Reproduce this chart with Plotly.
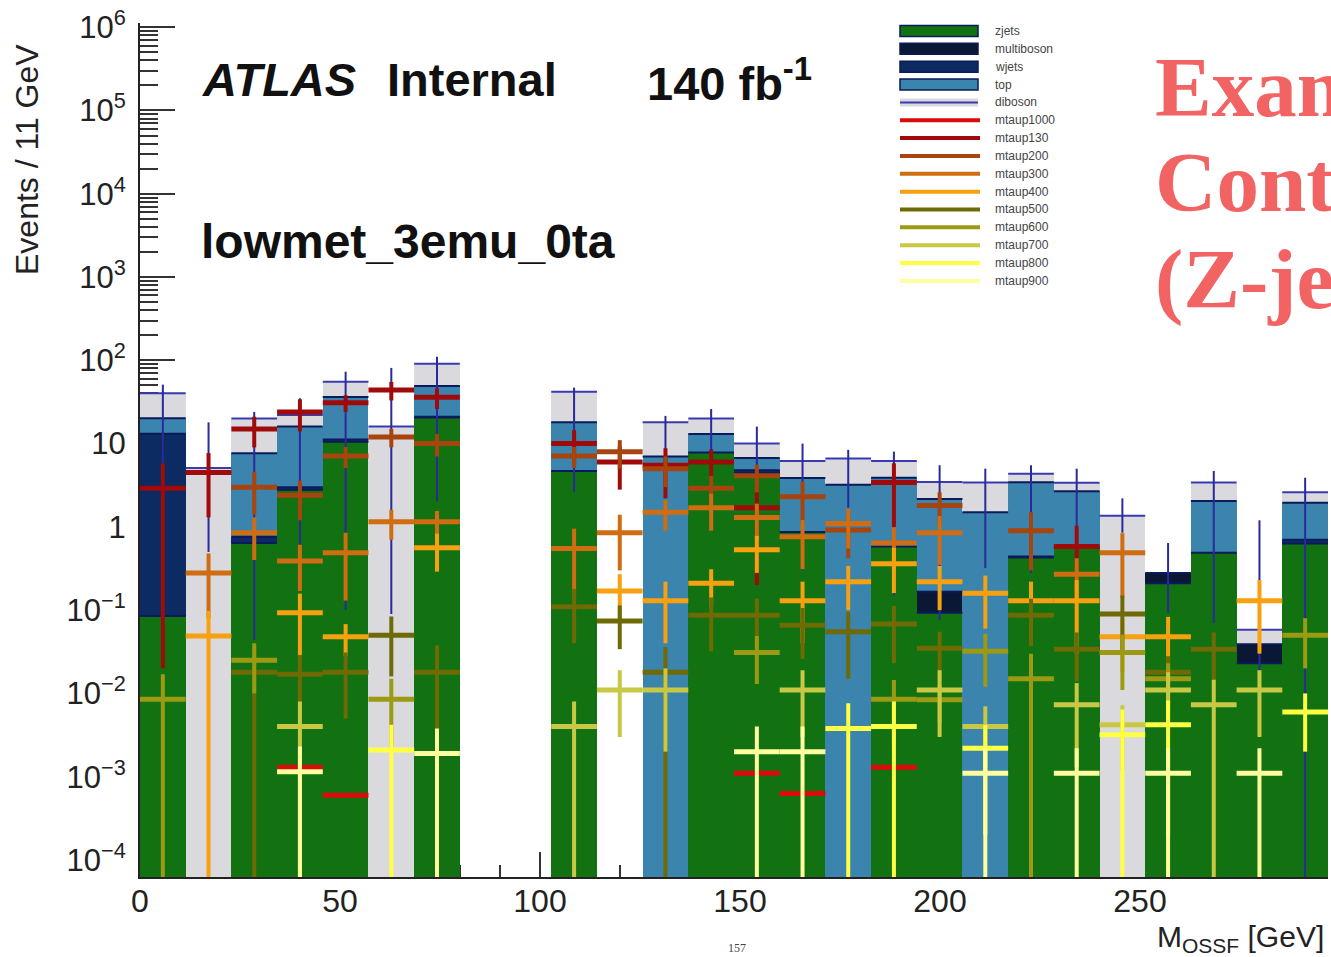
import numpy as np
import plotly.graph_objects as go

# ---------------- binning ----------------
x_min, x_max, n_bins = 0.0, 297.0, 26

# ---------------- background stack (per-bin yields) ----------------
zjets      = [0.085, 0, 0.64, 2.8, 10.5, 0, 20.5, 0, 0, 4.7, 0, 0, 7.8, 4.4, 0.87, 0, 0.58, 0.093, 0, 0.43, 0.58, 0, 0.21, 0.49, 0.023, 0.63]
multiboson = [0, 0, 0, 0, 0, 0, 0, 0, 0, 0, 0, 0, 0, 0, 0, 0, 0, 0.073, 0, 0, 0, 0, 0.07, 0, 0.016, 0]
wjets      = [13, 0, 0.12, 0.2, 0.7, 0, 0.5, 0, 0, 0, 0, 0, 0, 0.4, 0, 0, 0, 0, 0, 0.01, 0, 0, 0, 0, 0, 0.07]
top        = [7, 0, 6.9, 13, 25, 0, 28, 0, 0, 13.3, 0, 7, 5.2, 1.9, 3.0, 3.2, 3.3, 2.0, 1.5, 3.0, 2.1, 0, 0, 1.56, 0, 1.25]
diboson    = [20, 5.1, 12.3, 6, 19, 16, 42, 0, 0, 24, 0, 11, 7, 3.3, 2.3, 3.4, 2.3, 1.3, 1.9, 0.9, 0.7, 1.36, 0, 1.35, 0.019, 0.65]

# total-background uncertainty band edges (upper / lower end of the error bar)
bkg_err_hi = [51, 18, 24, 35, 73, 81, 110, 0, 0, 47, 0, 21.5, 26, 16, 10, 8.4, 8, 5.5, 5.0, 5.5, 5.0, 2.2, 0.64, 4.7, 1.2, 3.9]
bkg_err_lo = [3, 0.5, 0.044, 0.5, 0.1, 0.09, 2, 0, 0, 2.6, 0, 3, 4, 2, 0.3, 1.7, 0.15, 0.076, 0.32, 0.28, 0.7, 0.85, 0.093, 0.07, 0.003, 1e-6]

# ---------------- signals (value, symmetric error) ----------------
N = None
mtaup1000_val = [N, N, N, 0.0013, 0.0006, N, N, N, N, N, N, N, N, 0.0011, 0.00063, N, 0.0013, N, N, N, N, N, N, N, N, N]
mtaup1000_err = [N, N, N, 0, 0, N, N, N, N, N, N, N, N, 0, 0, N, 0, N, N, N, N, N, N, N, N, N]
mtaup130_val = [2.9, 4.5, 15, 24, 31, 44, 36, N, N, 10, 6.0, 5.5, 6.0, 1.7, N, N, 3.4, N, N, N, 0.58, N, N, N, N, N]
mtaup130_err = [2.88, 3.2, 6, 10, 7, 11, 10, N, N, 4.5, 3.2, 3.3, 2.5, 1.5, N, N, 2.4, N, N, N, 0.45, N, N, N, N, N]
mtaup200_val = [N, N, 3.0, 2.4, 7.1, 12, 10, N, N, 7.1, 8, 5.0, 2.9, 4.1, 2.3, 0.92, N, 1.8, N, 0.9, N, N, N, N, N, N]
mtaup200_err = [N, N, 1.6, 1.2, 2, 3, 3, N, N, 2, 3, 2, 1.2, 1.5, 1.2, 0.5, N, 0.8, N, 0.6, N, N, N, N, N, N]
mtaup300_val = [N, 0.28, 0.85, 0.39, 0.49, 1.15, 1.15, N, N, 0.55, 0.85, 1.5, 1.7, 1.3, 0.76, 1.1, 0.64, 0.85, N, N, 0.27, 0.49, N, N, N, N]
mtaup300_err = [N, 0.2, 0.45, 0.22, 0.36, 0.45, 0.4, N, N, 0.4, 0.55, 0.6, 0.8, 0.6, 0.45, 0.55, 0.35, 0.5, N, N, 0.15, 0.35, N, N, N, N]
mtaup400_val = [N, 0.049, N, 0.093, 0.048, N, 0.56, N, N, N, 0.17, 0.13, 0.21, 0.53, 0.13, 0.22, 0.36, 0.22, 0.16, 0.13, 0.13, 0.048, 0.048, N, 0.13, N]
mtaup400_err = [N, 0.049, N, 0.065, 0.02, N, 0.27, N, N, N, 0.1, 0.09, 0.1, 0.25, 0.09, 0.12, 0.2, 0.12, 0.1, 0.09, 0.1, 0.03, 0.035, N, 0.1, N]
mtaup500_val = [N, N, 0.018, 0.017, 0.018, 0.05, 0.018, N, N, 0.11, 0.074, 0.018, 0.087, 0.087, 0.066, 0.055, 0.068, 0.035, N, 0.087, 0.034, 0.09, 0.018, 0.034, N, N]
mtaup500_err = [N, N, 0.018, 0.012, 0.013, 0.034, 0.02, N, N, 0.07, 0.04, 0.018, 0.055, 0.05, 0.04, 0.04, 0.045, 0.02, N, 0.05, 0.02, 0.06, 0.01, 0.02, N, N]
mtaup600_val = [0.0085, N, 0.025, N, N, 0.0085, N, N, N, N, N, N, N, 0.031, N, N, 0.0085, 0.0084, 0.032, 0.015, N, 0.031, 0.015, N, N, 0.05]
mtaup600_err = [0.0085, N, 0.015, N, N, 0.0065, N, N, N, N, N, N, N, 0.018, N, N, 0.006, 0.004, 0.02, 0.015, N, 0.02, 0.008, N, N, 0.03]
mtaup700_val = [N, N, N, 0.004, N, N, N, N, N, 0.004, 0.011, 0.011, N, N, 0.011, N, N, 0.011, 0.004, N, 0.0073, 0.0042, 0.011, 0.0073, 0.011, N]
mtaup700_err = [N, N, N, 0.004, N, N, N, N, N, 0.004, 0.008, 0.009, N, N, 0.008, N, N, 0.008, 0.003, N, 0.006, 0.003, 0.007, 0.0073, 0.008, N]
mtaup800_val = [N, N, N, N, N, 0.0021, N, N, N, N, N, N, N, N, N, 0.0038, 0.004, N, 0.0022, N, N, 0.0032, 0.0042, N, N, 0.006]
mtaup800_err = [N, N, N, N, N, 0.0021, N, N, N, N, N, N, N, N, N, 0.0038, 0.004, N, 0.002, N, N, 0.0032, 0.004, N, N, 0.004]
mtaup900_val = [N, N, N, 0.00115, N, N, 0.0019, N, N, N, N, N, N, 0.002, 0.002, N, N, N, 0.0011, N, 0.0011, N, 0.0011, N, 0.0011, N]
mtaup900_err = [N, N, N, 0.00115, N, N, 0.0019, N, N, N, N, N, N, 0.002, 0.002, N, N, N, 0.0011, N, 0.0011, N, 0.0011, N, 0.0011, N]

# y-axis tick labels
y_tickvals = [1e-4, 1e-3, 1e-2, 1e-1, 1, 10, 1e2, 1e3, 1e4, 1e5, 1e6]
y_ticktext = ["10<sup>\u22124</sup>", "10<sup>\u22123</sup>", "10<sup>\u22122</sup>", "10<sup>\u22121</sup>",
              "1", "10", "10<sup>2</sup>", "10<sup>3</sup>", "10<sup>4</sup>", "10<sup>5</sup>", "10<sup>6</sup>"]
x_tickvals = [0, 50, 100, 150, 200, 250]

# ---------------- styles ----------------
bkg_colors = {
    "zjets": "#127212",
    "multiboson": "#0a1836",
    "wjets": "#0c2b62",
    "top": "#3a84ad",
    "diboson": "#d9d9de",
}
sig_colors = {
    "mtaup1000": "#dd0a0a",
    "mtaup130": "#a00a0a",
    "mtaup200": "#a8440e",
    "mtaup300": "#d06c12",
    "mtaup400": "#f7a010",
    "mtaup500": "#6e6a06",
    "mtaup600": "#9c9a12",
    "mtaup700": "#c8c844",
    "mtaup800": "#ffff44",
    "mtaup900": "#ffffa0",
}
FLOOR = 1e-6

edges = np.linspace(x_min, x_max, n_bins + 1)
centers = 0.5 * (edges[:-1] + edges[1:])
bw = edges[1] - edges[0]

fig = go.Figure()

# stacked background (cumulative, overlay from the largest down)
comps = [("zjets", zjets), ("multiboson", multiboson), ("wjets", wjets), ("top", top), ("diboson", diboson)]
cum = np.zeros(n_bins)
cums = []
for name, vals in comps:
    cum = cum + np.array(vals, dtype=float)
    cums.append((name, cum.copy(), np.array(vals, dtype=float)))

for name, c, v in reversed(cums):
    fig.add_trace(go.Bar(
        x=centers, y=np.where(c > 0, c, 0), base=FLOOR, width=bw,
        marker=dict(color=bkg_colors[name], line=dict(width=0)),
        showlegend=False, hoverinfo="skip"))

# component outlines (horizontal lines at each component top)
for name, c, v in cums:
    xs, ys = [], []
    for i in range(n_bins):
        if v[i] > 0:
            xs += [edges[i], edges[i + 1], None]
            ys += [c[i], c[i], None]
    col = "#3a3ab0" if name == "diboson" else "#0a1a5a"
    fig.add_trace(go.Scatter(x=xs, y=ys, mode="lines", line=dict(color=col, width=2),
                             showlegend=False, hoverinfo="skip"))

# total background error bars
xs, ys = [], []
for i in range(n_bins):
    if bkg_err_hi[i] > 0:
        xs += [centers[i], centers[i], None]
        ys += [max(bkg_err_lo[i], FLOOR), bkg_err_hi[i], None]
fig.add_trace(go.Scatter(x=xs, y=ys, mode="lines", line=dict(color="#2a2a9a", width=2),
                         showlegend=False, hoverinfo="skip"))

# signals as crosses
signals = [
    ("mtaup1000", mtaup1000_val, mtaup1000_err),
    ("mtaup130", mtaup130_val, mtaup130_err),
    ("mtaup200", mtaup200_val, mtaup200_err),
    ("mtaup300", mtaup300_val, mtaup300_err),
    ("mtaup400", mtaup400_val, mtaup400_err),
    ("mtaup500", mtaup500_val, mtaup500_err),
    ("mtaup600", mtaup600_val, mtaup600_err),
    ("mtaup700", mtaup700_val, mtaup700_err),
    ("mtaup800", mtaup800_val, mtaup800_err),
    ("mtaup900", mtaup900_val, mtaup900_err),
]
for name, vals, errs in signals:
    hx, hy, vx, vy = [], [], [], []
    for i in range(n_bins):
        v = vals[i]
        if v is None:
            continue
        e = errs[i] or 0
        hx += [edges[i], edges[i + 1], None]
        hy += [v, v, None]
        if e > 0:
            vx += [centers[i], centers[i], None]
            vy += [max(v - e, FLOOR), v + e, None]
    col = sig_colors[name]
    fig.add_trace(go.Scatter(x=vx, y=vy, mode="lines", line=dict(color=col, width=4),
                             showlegend=False, hoverinfo="skip"))
    fig.add_trace(go.Scatter(x=hx, y=hy, mode="lines", line=dict(color=col, width=5),
                             showlegend=False, hoverinfo="skip"))

# ---------------- layout ----------------
W, H = 1331, 957
PL, PR, PT, PB = 140, 1328, 23, 877


def px(x):
    return (x - PL) / (PR - PL)


def py(y):
    return (PB - y) / (PB - PT)


FONT = "Liberation Sans, Arial, Helvetica, sans-serif"
ann = []


def text(x, y, s, size, color="#111", xanchor="left", yanchor="middle", family=FONT, angle=0):
    ann.append(dict(x=px(x), y=py(y), xref="paper", yref="paper", text=s, showarrow=False,
                    xanchor=xanchor, yanchor=yanchor, textangle=angle,
                    font=dict(family=family, size=size, color=color)))


text(200, 80, "<b><i>ATLAS</i></b>", 47)
text(385, 80, "<b>Internal</b>", 47)
text(645, 80, "<b>140 fb<sup>-1</sup></b>", 47)
text(199, 242, "<b>lowmet_3emu_0ta</b>", 48)
text(27, 160, "Events / 11 GeV", 32, color="#222", xanchor="center", angle=-90)
text(1326, 938, "M<sub>OSSF</sub> [GeV]", 30, color="#222", xanchor="right")

SERIF = "Liberation Serif, Times New Roman, serif"
text(1153, 87, "<b>Example</b>", 85, color="#f26464", family=SERIF)
text(1153, 182, "<b>Control</b>", 85, color="#f26464", family=SERIF)
text(1153, 279, "<b>(Z-jets)</b>", 85, color="#f26464", family=SERIF)
text(737, 948, "157", 12, color="#444", xanchor="center", family=SERIF)

# manual legend
shapes = []
leg_y0, leg_dy = 31, 17.85
leg_items = [("zjets", "fill"), ("multiboson", "fill"), ("wjets", "fill"), ("top", "fill"), ("diboson", "dib")] + \
            [(s[0], "line") for s in signals]
for k, (name, kind) in enumerate(leg_items):
    yc = leg_y0 + k * leg_dy
    if kind == "fill":
        shapes.append(dict(type="rect", xref="paper", yref="paper",
                           x0=px(900), x1=px(978), y0=py(yc + 5.5), y1=py(yc - 5.5),
                           fillcolor=bkg_colors[name], line=dict(color="#0a1a5a", width=1.5)))
    elif kind == "dib":
        shapes.append(dict(type="rect", xref="paper", yref="paper",
                           x0=px(900), x1=px(978), y0=py(yc + 4), y1=py(yc - 4),
                           fillcolor=bkg_colors[name], line=dict(width=0)))
        shapes.append(dict(type="line", xref="paper", yref="paper",
                           x0=px(900), x1=px(978), y0=py(yc), y1=py(yc),
                           line=dict(color="#3a3ab0", width=2)))
    else:
        shapes.append(dict(type="line", xref="paper", yref="paper",
                           x0=px(900), x1=px(980), y0=py(yc), y1=py(yc),
                           line=dict(color=sig_colors[name], width=4)))
    text(993, yc, name, 12, color="#444")

fig.update_layout(
    width=W, height=H,
    margin=dict(l=PL, r=W - PR, t=PT, b=H - PB, pad=0),
    paper_bgcolor="white", plot_bgcolor="white",
    barmode="overlay", bargap=0, showlegend=False,
    annotations=ann, shapes=shapes,
    font=dict(family=FONT, color="#222"),
    xaxis=dict(range=[x_min, x_max], showgrid=False, zeroline=False,
               showline=True, linecolor="#222", linewidth=2,
               ticks="inside", ticklen=25, tickwidth=2, tickcolor="#333",
               tickvals=x_tickvals, tickfont=dict(size=32, color="#222"),
               ticklabelstandoff=-5,
               minor=dict(ticks="inside", ticklen=12, dtick=10, tickwidth=2, tickcolor="#333", showgrid=False),
               layer="below traces"),
    yaxis=dict(type="log", range=[-4.204, 6.05], showgrid=False, zeroline=False,
               showline=True, linecolor="#222", linewidth=2,
               ticks="inside", ticklen=35, tickwidth=2, tickcolor="#333",
               tickvals=y_tickvals, ticktext=y_ticktext, tickfont=dict(size=31, color="#222"),
               ticklabelstandoff=6,
               minor=dict(ticks="inside", ticklen=18, dtick="D1", tickwidth=1.5, tickcolor="#333", showgrid=False),
               layer="below traces"),
)

fig.write_html("out.html")
